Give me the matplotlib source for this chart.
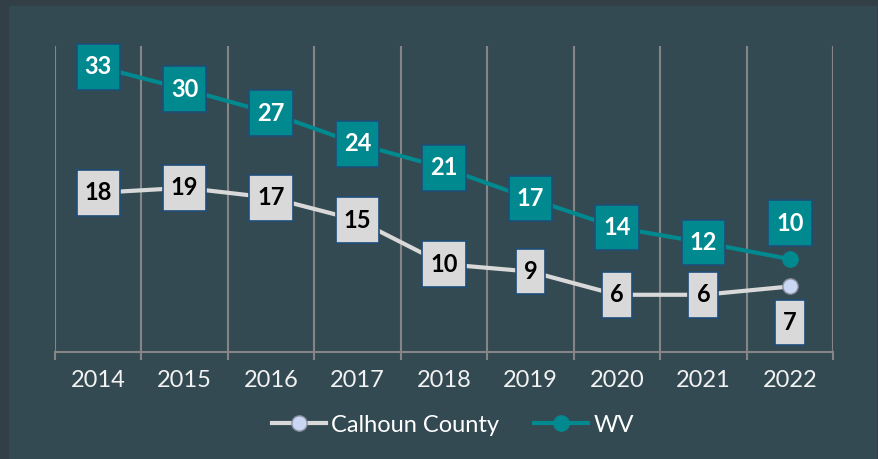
import matplotlib.pyplot as plt
from matplotlib.patches import Rectangle
from matplotlib.path import Path

plt.rcParams['font.family'] = ['Lato', 'DejaVu Sans']

years = ['2014', '2015', '2016', '2017', '2018', '2019', '2020', '2021', '2022']
calhoun = [18.2, 18.8, 17.6, 14.9, 9.6, 8.7, 5.9, 5.9, 6.9]
wv = [33.4, 30.7, 27.8, 24.1, 21.2, 17.5, 14.0, 12.2, 10.2]
calhoun_labels = ['18', '19', '17', '15', '10', '9', '6', '6', '7']
wv_labels = ['33', '30', '27', '24', '21', '17', '14', '12', '10']

outer_bg = '#333f47'
panel_bg = '#344a52'
teal = '#00898f'
light = '#d9d9d9'
box_edge = '#1f4e79'
grid_col = '#858585'


def label_box(x0, y0, width, height, mutation_size):
    # square box, a bit more padding top/bottom than left/right
    px = 0.34 * mutation_size
    py = 0.48 * mutation_size
    verts = [(x0 - px, y0 - py), (x0 + width + px, y0 - py),
             (x0 + width + px, y0 + height + py), (x0 - px, y0 + height + py),
             (x0 - px, y0 - py)]
    codes = [Path.MOVETO, Path.LINETO, Path.LINETO, Path.LINETO, Path.CLOSEPOLY]
    return Path(verts, codes)


fig = plt.figure(figsize=(8.79, 4.59), dpi=100)
fig.patch.set_facecolor(outer_bg)
fig.patches.append(Rectangle((9 / 879, 0), 868 / 879, 1 - 6 / 459,
                             transform=fig.transFigure, facecolor=panel_bg,
                             edgecolor='none', zorder=-1))

ax = fig.add_axes([55 / 879, 1 - 352 / 459, 778 / 879, 306 / 459])
ax.set_facecolor('none')
ax.set_zorder(1)

x = list(range(len(years)))

ax.plot(x, calhoun, color=light, lw=3, marker='o', markersize=11,
        markerfacecolor='#c9d7f5', markeredgecolor='#8a8fa0', markeredgewidth=1,
        label='Calhoun County', zorder=3)
ax.plot(x, wv, color=teal, lw=3, marker='o', markersize=11,
        markerfacecolor=teal, markeredgecolor=teal,
        label='WV', zorder=3)

# data labels: centered on point, last one offset
last = len(years) - 1
for i in x:
    dy = 26 if i == last else 0
    ax.annotate(wv_labels[i], (i, wv[i]), xytext=(0, dy), textcoords='offset points',
                ha='center', va='center', fontsize=17, fontweight='bold', color='white',
                bbox=dict(boxstyle=label_box, fc=teal, ec=box_edge, lw=1.2),
                zorder=5)
    ax.annotate(calhoun_labels[i], (i, calhoun[i]), xytext=(0, -dy), textcoords='offset points',
                ha='center', va='center', fontsize=17, fontweight='bold', color='black',
                bbox=dict(boxstyle=label_box, fc=light, ec=box_edge, lw=1.2),
                zorder=5)

ax.set_xlim(-0.5, 8.5)
ax.set_ylim(-1.0, 35.9)

ax.set_xticks(x)
ax.set_xticklabels(years)
ax.set_xticks([i - 0.5 for i in range(len(years) + 1)], minor=True)
ax.tick_params(axis='x', which='major', length=0, pad=13, labelsize=17, labelcolor='#f2f2f2')
ax.tick_params(axis='x', which='minor', length=6, width=1.5, color=grid_col)
ax.set_yticks([])
ax.grid(True, axis='x', which='minor', color=grid_col, lw=1.5)
ax.grid(False, which='major')

for side in ['left', 'right', 'top']:
    ax.spines[side].set_visible(False)
ax.spines['bottom'].set_color(grid_col)
ax.spines['bottom'].set_linewidth(1.5)

leg = fig.legend(loc='center', bbox_to_anchor=(0.515, 0.074), ncol=2, frameon=False,
                 fontsize=17, handlelength=2.3, columnspacing=1.5, handletextpad=0.2)
for t in leg.get_texts():
    t.set_color('white')

fig.savefig('out.png', dpi=100, facecolor=fig.get_facecolor())
